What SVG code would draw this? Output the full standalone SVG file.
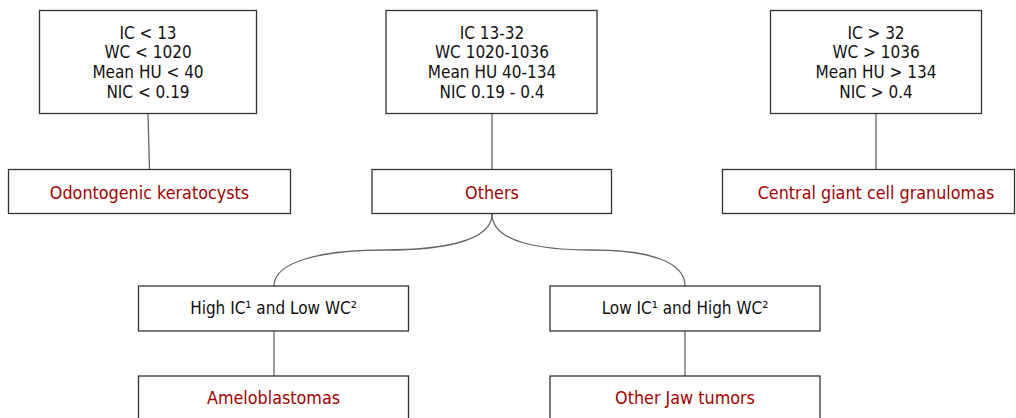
<svg xmlns="http://www.w3.org/2000/svg" width="1016" height="418" viewBox="0 0 1016 418">
<style>
.box{fill:#fff;stroke:#333;stroke-width:1.3}
.t{font-family:"DejaVu Sans Condensed","DejaVu Sans",sans-serif;font-size:17px;fill:#111;text-anchor:middle}
.r{fill:#a00000;font-size:17.8px}
.c{fill:none;stroke:#666;stroke-width:1.3}
</style>
<rect width="1016" height="418" fill="#fff"/>
<g id="connectors">
<path class="c" d="M148 114 L149.5 169.5"/>
<path class="c" d="M492 114 L492 169.5"/>
<path class="c" d="M876 114 L876 169.5"/>
<path class="c" d="M492 214 C492 242 440 250 385 250 C 320 250 274 262 274 286"/>
<path class="c" d="M492 214 C492 242 540 250 592 250 C 650 250 685 262 685 286"/>
<path class="c" d="M274 331 L274 376"/>
<path class="c" d="M685 331 L685 376"/>
</g>
<g id="n1"><rect class="box" x="39.5" y="10.5" width="217" height="103"/>
<text class="t" x="148" y="38.5">IC &lt; 13</text><text class="t" x="148" y="58">WC &lt; 1020</text><text class="t" x="148" y="77.5">Mean HU &lt; 40</text><text class="t" x="148" y="97.5">NIC &lt; 0.19</text></g>
<g id="n2"><rect class="box" x="386" y="10.5" width="211" height="103"/>
<text class="t" x="492" y="38.5">IC 13-32</text><text class="t" x="492" y="58">WC 1020-1036</text><text class="t" x="492" y="77.5">Mean HU 40-134</text><text class="t" x="492" y="97.5">NIC 0.19 - 0.4</text></g>
<g id="n3"><rect class="box" x="770.5" y="10.5" width="211" height="103"/>
<text class="t" x="876" y="38.5">IC &gt; 32</text><text class="t" x="876" y="58">WC &gt; 1036</text><text class="t" x="876" y="77.5">Mean HU &gt; 134</text><text class="t" x="876" y="97.5">NIC &gt; 0.4</text></g>
<g id="n4"><rect class="box" x="8.5" y="169.5" width="282" height="44"/><text class="t r" x="149.5" y="198.5">Odontogenic keratocysts</text></g>
<g id="n5"><rect class="box" x="372" y="169.5" width="239.5" height="44"/><text class="t r" x="492" y="198.5">Others</text></g>
<g id="n6"><rect class="box" x="722.5" y="169.5" width="292" height="44"/><text class="t r" x="876" y="198.5">Central giant cell granulomas</text></g>
<g id="n7"><rect class="box" x="138.5" y="286" width="270" height="45"/><text class="t" x="273.5" y="314">High IC¹ and Low WC²</text></g>
<g id="n8"><rect class="box" x="550" y="286" width="270" height="45"/><text class="t" x="685" y="314">Low IC¹ and High WC²</text></g>
<g id="n9"><rect class="box" x="138.5" y="376" width="270" height="50"/><text class="t r" x="273.5" y="404">Ameloblastomas</text></g>
<g id="n10"><rect class="box" x="550" y="376" width="270" height="50"/><text class="t r" x="685" y="404">Other Jaw tumors</text></g>
</svg>
